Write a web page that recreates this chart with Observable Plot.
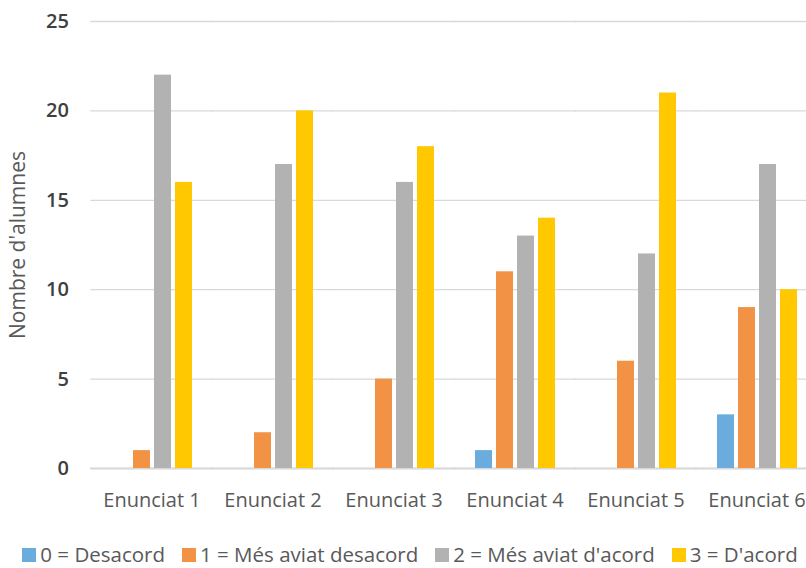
<!DOCTYPE html>
<html>
<head>
<meta charset="utf-8">
<script src="https://cdn.jsdelivr.net/npm/d3@7"></script>
<script src="https://cdn.jsdelivr.net/npm/@observablehq/plot@0.6"></script>
<style>
  html, body { margin: 0; background: #fff; font-family: "Open Sans", sans-serif; overflow: hidden; }
  #chart svg { display: block; }
  #legend { box-sizing: border-box; display: flex; justify-content: center; align-items: center; gap: 17px; height: 33px; font-size: 20.5px; line-height: 1.2; color: #595959; padding-left: 14px; padding-top: 6px; }
  #legend .item { display: flex; align-items: center; white-space: nowrap; }
  #legend .sw { width: 14px; height: 14px; margin-right: 4px; display: inline-block; }
</style>
</head>
<body>
<div id="chart"></div>
<div id="legend"></div>
<script>
const categories = ["Enunciat 1", "Enunciat 2", "Enunciat 3", "Enunciat 4", "Enunciat 5", "Enunciat 6"];
const seriesNames = ["0 = Desacord", "1 = Més aviat desacord", "2 = Més aviat d'acord", "3 = D'acord"];
const desacord = [0, 0, 0, 1, 0, 3];
const mesAviatDesacord = [1, 2, 5, 11, 6, 9];
const mesAviatDacord = [22, 17, 16, 13, 12, 17];
const dacord = [16, 20, 18, 14, 21, 10];
const colors = ["#6AACDD", "#F19244", "#B2B2B2", "#FFC800"];
const yTicks = [0, 5, 10, 15, 20, 25];

const seriesValues = [desacord, mesAviatDesacord, mesAviatDacord, dacord];
const data = [];
categories.forEach((c, i) => {
  seriesNames.forEach((s, j) => {
    data.push({cat: c, series: s, value: seriesValues[j][i]});
  });
});

const chart = Plot.plot({
  width: 806,
  height: 535,
  marginTop: 21,
  marginBottom: 67,
  marginLeft: 90,
  marginRight: 0,
  style: {fontFamily: "'Open Sans', sans-serif", fontSize: "18px", color: "#595959", background: "#fff", overflow: "visible"},
  fx: {domain: categories, range: [90, 817], paddingInner: 0.25, paddingOuter: 0.129, label: null},
  x: {domain: seriesNames, padding: 0.2, axis: null},
  y: {domain: [0, 25], range: [468, 21]},
  color: {domain: seriesNames, range: colors},
  marks: [
    Plot.ruleY(yTicks, {stroke: "#D9D9D9", strokeWidth: 1.3, insetLeft: -15.7, insetRight: -15.7}),
    Plot.ruleY([0], {stroke: "#D9D9D9", strokeWidth: 2, insetLeft: -15.7, insetRight: -15.7}),
    Plot.barY(data, {fx: "cat", x: "series", y: "value", fill: "series"}),
    Plot.axisFx({anchor: "bottom", tickSize: 0, tickPadding: 24, fontSize: 20, fill: "#595959", label: null}),
    Plot.axisY(yTicks, {anchor: "left", tickSize: 0, tickPadding: 22, dx: -15.6, fontSize: 20, fontWeight: 600, fill: "#404040", label: null}),
    Plot.axisY([], {anchor: "left", tickSize: 0, fontSize: 21, fill: "#595959",
      label: "Nombre d'alumnes", labelAnchor: "center", labelOffset: 96, labelArrow: "none"})
  ]
});
document.getElementById("chart").appendChild(chart);

const legend = document.getElementById("legend");
seriesNames.forEach((s, i) => {
  const item = document.createElement("span");
  item.className = "item";
  const sw = document.createElement("span");
  sw.className = "sw";
  sw.style.background = colors[i];
  item.appendChild(sw);
  item.appendChild(document.createTextNode(s));
  legend.appendChild(item);
});
</script>
</body>
</html>
